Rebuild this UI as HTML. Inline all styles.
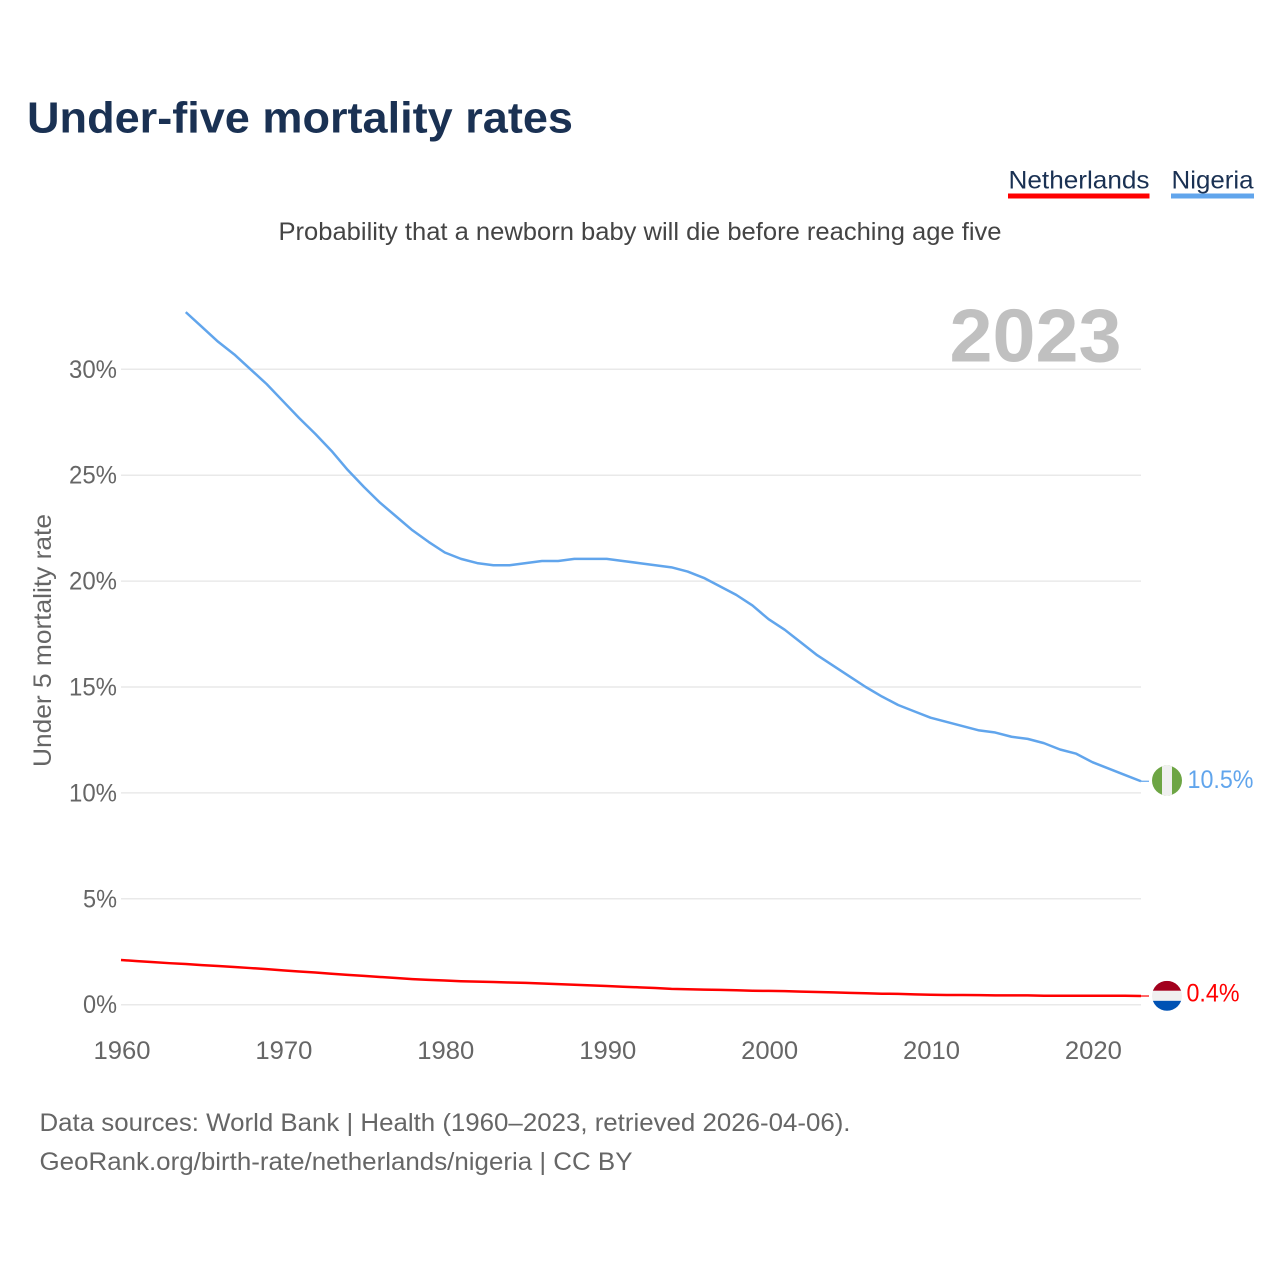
<!DOCTYPE html>
<html lang="en">
<head>
<meta charset="utf-8">
<title>Under-five mortality rates</title>
<style>
html,body{margin:0;padding:0;background:#fff;}
svg{display:block;font-family:"Liberation Sans",sans-serif;}
</style>
</head>
<body>
<svg id="chart" width="1280" height="1280" viewBox="0 0 1280 1280" xmlns="http://www.w3.org/2000/svg">
  <defs>
    <clipPath id="clip-ng"><circle r="15"></circle></clipPath>
    <clipPath id="clip-nl"><circle r="15"></circle></clipPath>
  </defs>
  <rect width="1280" height="1280" fill="#fff"></rect>
  <text x="27" y="132.5" font-size="44" font-weight="700" fill="#1a3153" textLength="546" lengthAdjust="spacingAndGlyphs">Under-five mortality rates</text>
  <g>
    <text x="1008.5" y="188.5" font-size="25" fill="#1a3153" textLength="141" lengthAdjust="spacingAndGlyphs">Netherlands</text>
    <rect x="1008" y="193.5" width="141.500" height="5" fill="#ff0000"></rect>
  </g>
  <g>
    <text x="1171.500" y="188.5" font-size="25" fill="#1a3153" textLength="82" lengthAdjust="spacingAndGlyphs">Nigeria</text>
    <rect x="1171" y="193.5" width="83" height="5" fill="#61a5ec"></rect>
  </g>
  <text x="278.500" y="240" font-size="25" fill="#444" textLength="723" lengthAdjust="spacingAndGlyphs">Probability that a newborn baby will die before reaching age five</text>
  <text transform="translate(51,767) rotate(-90)" font-size="25" fill="#666" textLength="253" lengthAdjust="spacingAndGlyphs">Under 5 mortality rate</text>
  <g id="grid"></g>
  <g id="yticks"></g>
  <g id="xticks"></g>
  <text x="949.5" y="361.5" font-size="75" font-weight="700" fill="#c0c0c0" textLength="172" lengthAdjust="spacingAndGlyphs">2023</text>
  <g id="series"></g>
  <g id="end-marks"></g>
  <text x="39.500" y="1131" font-size="25" fill="#666" textLength="811" lengthAdjust="spacingAndGlyphs">Data sources: World Bank | Health (1960–2023, retrieved 2026-04-06).</text>
  <text x="39.500" y="1170" font-size="25" fill="#666" textLength="593" lengthAdjust="spacingAndGlyphs">GeoRank.org/birth-rate/netherlands/nigeria | CC BY</text>
</svg>
<script>
const yTicks = [0, 5, 10, 15, 20, 25, 30];
const xTicks = [1960, 1970, 1980, 1990, 2000, 2010, 2020];
const netherlandsStartYear = 1960;
const netherlandsValues = [
  2.11, 2.06, 2.01, 1.96, 1.92, 1.87, 1.83, 1.78, 1.73, 1.68,
  1.62, 1.57, 1.52, 1.46, 1.41, 1.36, 1.31, 1.26, 1.21, 1.17,
  1.14, 1.11, 1.09, 1.07, 1.05, 1.03, 1.00, 0.97, 0.94, 0.91,
  0.88, 0.85, 0.82, 0.79, 0.75, 0.73, 0.71, 0.70, 0.68, 0.66,
  0.65, 0.64, 0.62, 0.60, 0.58, 0.56, 0.54, 0.52, 0.51, 0.49,
  0.47, 0.46, 0.46, 0.45, 0.44, 0.44, 0.44, 0.42, 0.42, 0.42,
  0.42, 0.42, 0.42, 0.41
];
const nigeriaStartYear = 1964;
const nigeriaValues = [
  32.7, 32.0, 31.3, 30.7, 30.0, 29.3, 28.5, 27.7, 26.95, 26.15,
  25.25, 24.45, 23.7, 23.05, 22.4, 21.85, 21.35, 21.05, 20.85, 20.75,
  20.75, 20.85, 20.95, 20.95, 21.05, 21.05, 21.05, 20.95, 20.85, 20.75,
  20.65, 20.45, 20.15, 19.75, 19.35, 18.85, 18.2, 17.7, 17.1, 16.5,
  16.0, 15.5, 15.0, 14.55, 14.15, 13.85, 13.55, 13.35, 13.15, 12.95,
  12.85, 12.65, 12.55, 12.35, 12.05, 11.85, 11.45, 11.15, 10.85, 10.55
];
const nigeriaLabel = "10.5%";
const netherlandsLabel = "0.4%";

const NS = "http://www.w3.org/2000/svg";
const xScale = year => 121 + (year - 1960) * (1141 - 121) / 63;
const yScale = value => 1004.7 - value * 21.18;
const make = (tag, parent, attrs, content) => {
  const el = document.createElementNS(NS, tag);
  for (const key in attrs) el.setAttribute(key, attrs[key]);
  if (content !== undefined) el.textContent = content;
  parent.appendChild(el);
  return el;
};

const grid = document.getElementById("grid");
const yTickGroup = document.getElementById("yticks");
yTicks.forEach(tick => {
  const line = make("line", grid, {x1: xScale(1960), x2: xScale(2023), y1: yScale(tick), y2: yScale(tick), stroke: "#e9e9e9", "stroke-width": 1.5});
  
  
  const label = make("text", yTickGroup, {x: 117, y: yScale(tick) + 8.5, "font-size": 25, fill: "#666", "text-anchor": "end", textLength: tick < 10 ? 34 : 48, lengthAdjust: "spacingAndGlyphs"}, tick + "%");
  
  
});

const xTickGroup = document.getElementById("xticks");
xTicks.forEach(tick => {
  const label = make("text", xTickGroup, {x: xScale(tick) + 1, y: 1059, "font-size": 25, fill: "#666", "text-anchor": "middle", textLength: 57, lengthAdjust: "spacingAndGlyphs"}, String(tick));
  
  
});

const seriesGroup = document.getElementById("series");
const pathFor = (values, startYear) => values.map((v, i) => (i ? "L" : "M") + xScale(startYear + i).toFixed(2) + " " + yScale(v).toFixed(2)).join("");

const nlLine = make("path", seriesGroup, {d: pathFor(netherlandsValues, netherlandsStartYear), fill: "none", stroke: "#ff0000", "stroke-width": 2.5, "stroke-linejoin": "round"});



const ngLine = make("path", seriesGroup, {d: pathFor(nigeriaValues, nigeriaStartYear), fill: "none", stroke: "#61a5ec", "stroke-width": 2.5, "stroke-linejoin": "round"});



const ends = document.getElementById("end-marks");
const ngLast = yScale(nigeriaValues[nigeriaValues.length - 1]);
const nlLast = yScale(netherlandsValues[netherlandsValues.length - 1]);

const ngConnector = make("line", ends, {x1: 1141, x2: 1149, y1: ngLast, y2: ngLast, stroke: "#61a5ec", "stroke-width": 1.2});



const nlConnector = make("line", ends, {x1: 1141, x2: 1149, y1: nlLast, y2: nlLast, stroke: "#ff0000", "stroke-width": 1.2});



const ngFlag = make("g", ends, {transform: "translate(1167," + (ngLast - 0.7) + ")", "clip-path": "url(#clip-ng)"});


make("rect", ngFlag, {x: -15, y: -15, width: 30, height: 30, fill: "#6da544"});
make("rect", ngFlag, {x: -5, y: -15, width: 10, height: 30, fill: "#f0f0f0"});

const nlFlag = make("g", ends, {transform: "translate(1167," + (nlLast - 0.2) + ")", "clip-path": "url(#clip-nl)"});


make("rect", nlFlag, {x: -15, y: -15, width: 30, height: 10, fill: "#a2001d"});
make("rect", nlFlag, {x: -15, y: -5, width: 30, height: 10, fill: "#f0f0f0"});
make("rect", nlFlag, {x: -15, y: 5, width: 30, height: 10, fill: "#0052b4"});

const ngValue = make("text", ends, {x: 1187.5, y: ngLast + 6.5, "font-size": 25, fill: "#61a5ec", textLength: 66, lengthAdjust: "spacingAndGlyphs"}, nigeriaLabel);



const nlValue = make("text", ends, {x: 1186.5, y: nlLast + 5.5, "font-size": 25, fill: "#ff0000", textLength: 53, lengthAdjust: "spacingAndGlyphs"}, netherlandsLabel);


</script>
</body>
</html>
